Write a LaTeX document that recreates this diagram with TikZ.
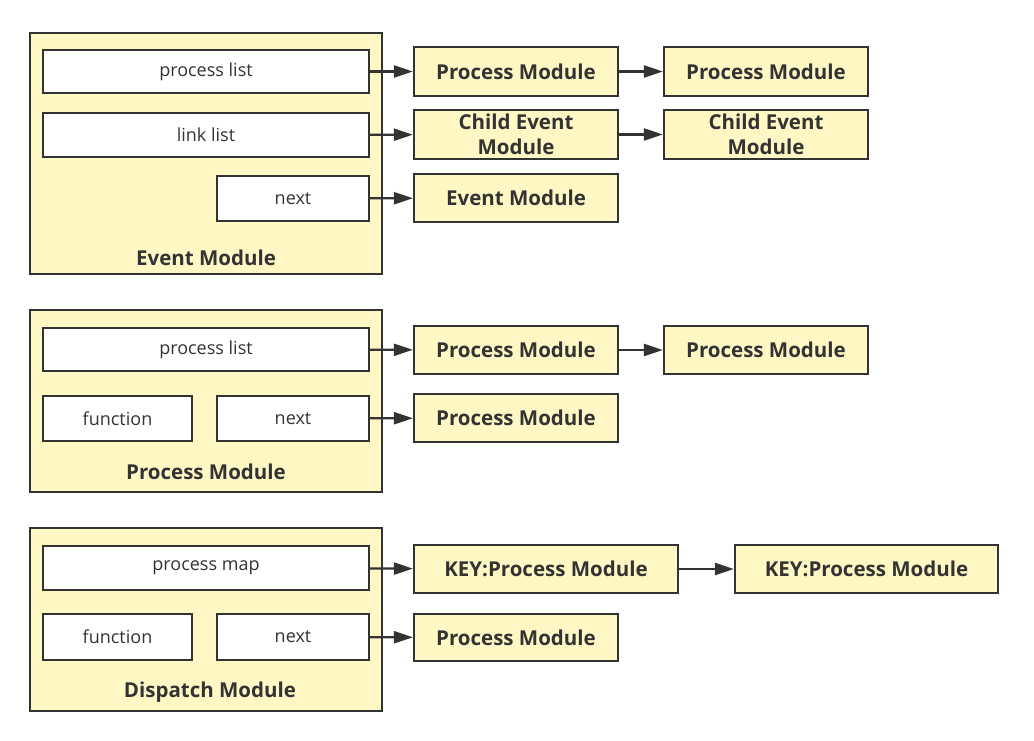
\documentclass[tikz,border=0pt]{standalone}
\usepackage{fontspec}
\setmainfont{Open Sans}
\usetikzlibrary{arrows.meta}
\definecolor{modfill}{HTML}{FFF8C5}
\definecolor{ink}{HTML}{333333}
\tikzset{
  module/.style={draw=ink, fill=modfill, line width=2.2pt, rectangle, inner sep=0pt,
    text=ink, font=\bfseries\fontsize{20.5}{25}\selectfont, align=center},
  field/.style={draw=ink, fill=white, line width=2.2pt, rectangle, inner sep=0pt,
    text=ink, font=\fontsize{18}{18}\selectfont},
  title/.style={text=ink, font=\bfseries\fontsize{20.5}{20.5}\selectfont, inner sep=0pt},
  link/.style={draw=ink, line width=2.2pt, -{Triangle[length=19pt,width=12pt]}}
}
\begin{document}
\begin{tikzpicture}[x=1pt, y=-1pt]
  \useasboundingbox (0,0) rectangle (1034,741);
  % event module
  \node[module, minimum width=352pt, minimum height=241pt] (ev) at (206,153.5) {};
  \node[field, minimum width=326pt, minimum height=43pt] (evplist) at (206,71.5) {process list};
  \node[field, minimum width=326pt, minimum height=44pt] (evlink) at (206,135) {link list};
  \node[field, minimum width=152pt, minimum height=45pt] (evnext) at (293,198.5) {next};
  \node[title] (evtitle) at (206,258) {Event Module};
  \node[module, minimum width=204pt, minimum height=49pt] (evpa) at (516,71.5) {Process Module};
  \node[module, minimum width=204pt, minimum height=49pt] (evpb) at (766,71.5) {Process Module};
  \node[module, minimum width=204pt, minimum height=49pt] (evca) at (516,134.5) {Child Event\\Module};
  \node[module, minimum width=204pt, minimum height=49pt] (evcb) at (766,134.5) {Child Event\\Module};
  \node[module, minimum width=204pt, minimum height=48pt] (evn) at (516,198) {Event Module};
  % process module
  \node[module, minimum width=352pt, minimum height=182pt] (pr) at (206,401) {};
  \node[field, minimum width=326pt, minimum height=43pt] (prplist) at (206,349.5) {process list};
  \node[field, minimum width=149pt, minimum height=45pt] (prfunc) at (117.5,418.5) {function};
  \node[field, minimum width=152pt, minimum height=45pt] (prnext) at (293,418.5) {next};
  \node[title] (prtitle) at (206,472) {Process Module};
  \node[module, minimum width=204pt, minimum height=48pt] (prpa) at (516,350) {Process Module};
  \node[module, minimum width=204pt, minimum height=48pt] (prpb) at (766,350) {Process Module};
  \node[module, minimum width=204pt, minimum height=48pt] (prn) at (516,418) {Process Module};
  % dispatch module
  \node[module, minimum width=352pt, minimum height=183pt] (dp) at (206,619.5) {};
  \node[field, minimum width=326pt, minimum height=44pt] (dpmap) at (206,568) {process map};
  \node[field, minimum width=149pt, minimum height=46pt] (dpfunc) at (117.5,637) {function};
  \node[field, minimum width=152pt, minimum height=46pt] (dpnext) at (293,637) {next};
  \node[title] (dptitle) at (210,692) {Dispatch Module};
  \node[module, minimum width=264pt, minimum height=48pt] (dpka) at (546,569) {KEY:Process Module};
  \node[module, minimum width=263pt, minimum height=48pt] (dpkb) at (866.5,569) {KEY:Process Module};
  \node[module, minimum width=204pt, minimum height=47pt] (dpn) at (516,637.5) {Process Module};
  \begin{scope}[link]
    \draw (evplist) to (evpa);
    \draw (evpa) to (evpb);
    \draw (evlink) to (evca);
    \draw (evca) to (evcb);
    \draw (evnext) to (evn);
    \draw (prplist) to (prpa);
    \draw (prpa) to (prpb);
    \draw (prnext) to (prn);
    \draw (dpmap) to (dpka);
    \draw (dpka) to (dpkb);
    \draw (dpnext) to (dpn);
  \end{scope}
\end{tikzpicture}
\end{document}
